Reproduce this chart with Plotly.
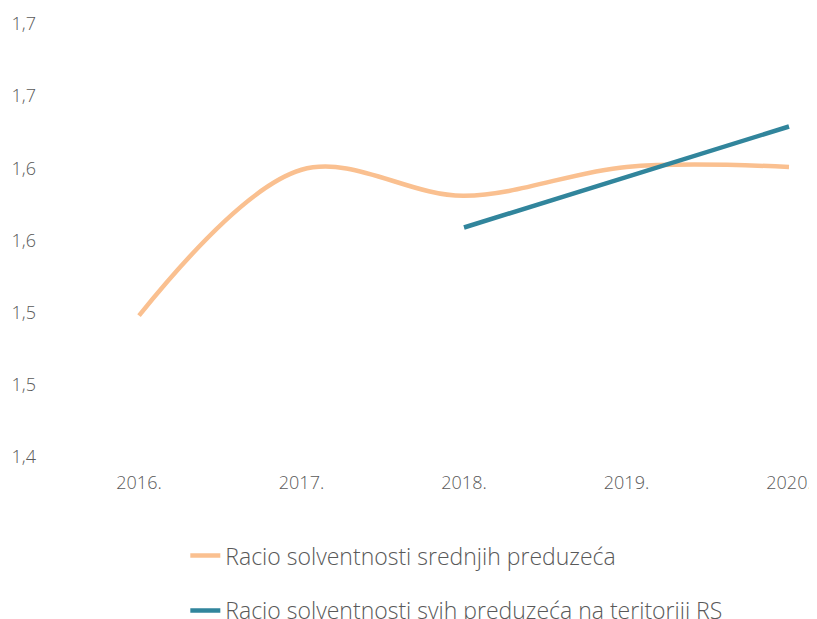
import plotly.graph_objects as go

years = ["2016.", "2017.", "2018.", "2019.", "2020."]
srednja = [1.498, 1.599, 1.581, 1.601, 1.601]
sva_years = ["2018.", "2019.", "2020."]
sva = [1.559, 1.594, 1.629]

tick_vals = [1.40, 1.45, 1.50, 1.55, 1.60, 1.65, 1.70]
tick_text = ["1,4", "1,5", "1,5", "1,6", "1,6", "1,7", "1,7"]

font_fam = "'Open Sans', Lato, sans-serif"
grey = "#595959"

fig = go.Figure()
fig.add_trace(go.Scatter(
    x=years, y=srednja, mode="lines",
    name="Racio solventnosti srednjih preduzeća",
    line=dict(color="#FAC090", width=4.5, shape="spline", smoothing=1.0),
    legendgroup="a"))
fig.add_trace(go.Scatter(
    x=sva_years, y=sva, mode="lines",
    name="Racio solventnosti svih preduzeća na teritoriji RS",
    line=dict(color="#31859C", width=4.5),
    legendgroup="b"))

# page body adds ~8px offset, margins compensate
fig.update_layout(
    width=817, height=619,
    margin=dict(l=50, r=0, t=16, b=170, autoexpand=False),
    paper_bgcolor="white", plot_bgcolor="white",
    font=dict(family=font_fam, color=grey, size=18, weight=300),
    xaxis=dict(type="category", categoryorder="array", categoryarray=years,
               range=[-0.4985, 4.2215], showgrid=False, zeroline=False,
               showline=False, ticks="", ticklabelstandoff=13, automargin=False,
               tickfont=dict(size=18, color=grey, weight=300)),
    yaxis=dict(range=[1.40, 1.70], tickvals=tick_vals, ticktext=tick_text,
               showgrid=False, zeroline=False, showline=False, ticks="",
               ticklabelstandoff=21, automargin=False,
               tickfont=dict(size=18, color=grey, weight=300)),
    legend=dict(orientation="v", x=0.166, xanchor="left", y=-0.178, yanchor="top",
                font=dict(size=23, color=grey, weight=300), tracegroupgap=22,
                bgcolor="rgba(0,0,0,0)"),
    showlegend=True,
)

fig.write_html("out.html")
